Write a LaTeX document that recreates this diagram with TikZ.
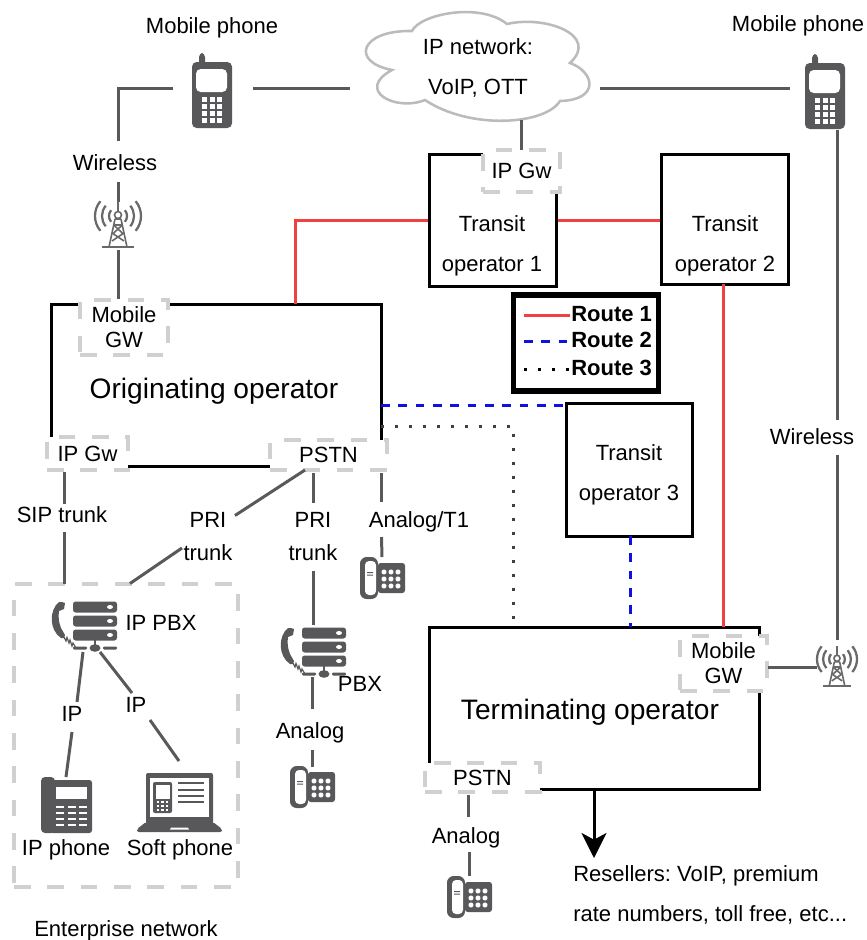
\documentclass[tikz,border=0pt]{standalone}
\usepackage{fontspec}
\setmainfont{Liberation Sans}
\usetikzlibrary{calc,arrows.meta}
\frenchspacing
\definecolor{iconc}{HTML}{58585B}
\definecolor{wirec}{HTML}{595959}
\definecolor{gwc}{HTML}{D0D0D0}
\definecolor{cloudc}{HTML}{BBBBBB}
\definecolor{redc}{HTML}{F04040}
\definecolor{bluec}{HTML}{1010E0}
\tikzset{
  x=0.75pt,y=-0.75pt,
  sz/.style 2 args={minimum width=#1*0.75pt,minimum height=#2*0.75pt,inner sep=0pt},
  lab/.style={font=\fontsize{16.5}{30}\selectfont,inner sep=0pt,align=center,text depth=0pt},
  labm/.style={font=\fontsize{16.5}{18.75}\selectfont,inner sep=0pt,align=center,text depth=0pt},
  labp/.style={font=\fontsize{16.5}{24.75}\selectfont,inner sep=0pt,align=center,text depth=0pt},
  labb/.style={font=\fontsize{21.1}{26}\selectfont,inner sep=0pt,align=center,text depth=0pt},
  labr/.style={font=\fontsize{16.5}{20}\selectfont\bfseries,inner sep=0pt,anchor=west},
  opbox/.style={draw=black,line width=2.25pt},
  gwbox/.style={draw=gwc,fill=white,line width=3.4pt,dash pattern=on 12.5pt off 12.5pt},
  entbox/.style={draw=gwc,line width=3.4pt,dash pattern=on 12.5pt off 12.5pt},
  wire/.style={draw=wirec,line width=2.25pt},
  route one/.style={draw=redc,line width=2.25pt},
  route two/.style={draw=bluec,line width=2.25pt,dash pattern=on 6.5pt off 6.5pt},
  route three/.style={draw=black!75,line width=2.25pt,dash pattern=on 2.25pt off 8.25pt},
  mobile/.pic={
    \fill[iconc,rounded corners=3pt] (-7,-42) rectangle (-13,-28);
    \fill[iconc,rounded corners=3.5pt] (-20,-33) rectangle (20,33);
    \fill[white,rounded corners=3.5pt] (-16,-26) rectangle (15,-3);
    \foreach \cx in {-8,0,7.5} \foreach \cy in {4.5,11,18,25}
      \fill[white] (\cx-2.5,\cy-2.5) rectangle (\cx+2.5,\cy+2.5);
  },
  tower/.pic={
    \begin{scope}[draw=iconc!90,line width=1.2pt]
      \draw (-16,22) -- (16,22);
      \draw (0,-24) -- (0,-13);
      \draw (0,-10) circle[radius=3.5];
      \draw (-3,-6) -- (-9,22) (3,-6) -- (9,22);
      \draw (-3,-6) -- (3,-6) (-4.3,0) -- (4.3,8) (4.3,0) -- (-4.3,8) (-6,8) -- (6,16) (6,8) -- (-6,16) (-4.3,0) -- (4.3,0);
      \foreach \r in {9,16,23} {
        \draw[line width=1.7pt] ([shift={(-40:\r)}]0,-9) arc (-40:40:\r);
        \draw[line width=1.7pt] ([shift={(140:\r)}]0,-9) arc (140:220:\r);
      }
    \end{scope}
  },
  deskphone/.pic={
    \fill[iconc,rounded corners=5pt] (-22,-21) rectangle (-4,21);
    \fill[white,rounded corners=3pt] (-17,-17) rectangle (-6,17);
    \fill[iconc,rounded corners=2pt] (-4,-15) rectangle (23,15);
    \fill[iconc] (-15,-6) rectangle (-9,-5) (-15,-3.5) rectangle (-9,-2.5);
    \foreach \cx in {2,9,16} \foreach \cy in {-6,1,8}
      \fill[white,rounded corners=1pt] (\cx-2.3,\cy-2.3) rectangle (\cx+2.3,\cy+2.3);
  },
  pbxicon/.pic={
    \foreach \cy in {-18,-4,10} {
      \fill[iconc,rounded corners=2pt] (-22,\cy-5.5) rectangle (22,\cy+5.5);
      \fill[white] (15,\cy) ellipse[x radius=3,y radius=2];
    }
    \fill[iconc] (-33,-23) -- (-30,-22) -- (-31,-16) -- (-36,-14)
      .. controls (-37,-8) and (-36,-2) .. (-34,3) -- (-30,10) -- (-31,13) -- (-34,13)
      .. controls (-46,5) and (-46,-15) .. (-36,-23) -- cycle;
    \draw[iconc,line width=0.9pt] (-31,12) -- (-29,16) -- (-28,12.5) -- (-26,18) -- (-25,15) -- (-23,21) -- (-22,18) -- (-19,23);
    \fill[iconc,rounded corners=0.8pt] (-22,21.5) rectangle (-8,24.5) (8,21.5) rectangle (22,24.5);
    \fill[iconc] (0,23) ellipse[x radius=5.5,y radius=3.8];
    \fill[iconc] (-1,15) rectangle (1,21);
  },
  ipphoneicon/.pic={
    \fill[iconc,rounded corners=3pt] (41,777) rectangle (55,833);
    \fill[iconc,rounded corners=2pt] (50,780) rectangle (92,833);
    \fill[white] (56,787) rectangle (87,799);
    \foreach \cy in {807,813,819,825}
      \foreach \cx in {56,67.5,79}
        \fill[white] (\cx,\cy-1.3) rectangle (\cx+8,\cy+1.3);
  },
  laptopicon/.pic={
    \fill[iconc,rounded corners=1.5pt] (146,773) rectangle (213,824);
    \fill[white] (150,778) rectangle (209,817);
    \fill[iconc,rounded corners=1.5pt] (153,782) rectangle (172,813);
    \fill[white] (155.5,785) rectangle (169.5,799);
    \foreach \cx in {158,162.5,167} \foreach \cy in {802,806,810}
      \fill[white] (\cx-1.2,\cy-1.2) rectangle (\cx+1.2,\cy+1.2);
    \foreach \cy in {783,790,796,802}
      \fill[iconc] (178,\cy-1) rectangle (204,\cy+1);
    \fill[iconc,rounded corners=1.5pt] (146,822) -- (213,822) -- (222,829) -- (222,832) -- (137,832) -- (137,829) -- cycle;
    \fill[white] (171,827.5) -- (188,827.5) -- (189,829.5) -- (170,829.5) -- cycle;
  },
}
\begin{document}
\begin{tikzpicture}
\useasboundingbox (0,0) rectangle (867,940);

% operator boxes
\node[opbox,sz={330}{162}] (orig) at (216,385) {};
\node[opbox,sz={127}{132}] (t1) at (492.5,220) {};
\node[opbox,sz={127}{130}] (t2) at (724.5,219) {};
\node[opbox,sz={126}{133}] (t3) at (629,469.5) {};
\node[opbox,sz={330}{162}] (term) at (594,708) {};

% cloud
\node[sz={250}{108}] (cloud) at (475,66) {};
\draw[draw=cloudc,fill=white,line width=1.9pt]
  (412,31) .. controls (420,14) and (480,2) .. (507,24)
  .. controls (545,15) and (600,35) .. (570,63)
  .. controls (595,72) and (600,100) .. (560,101)
  .. controls (545,125) and (470,130) .. (425,100)
  .. controls (395,112) and (355,90) .. (392,70)
  .. controls (350,62) and (360,30) .. (412,31) -- cycle;

% icon anchors
\node[sz={80}{80}] (phoneL) at (212,95) {};
\node[sz={40}{80}] (phoneR) at (825,96) {};
\node[sz={46}{46}] (towerL) at (118,225) {};
\node[sz={40}{40}] (towerR) at (837,667) {};
\node[sz={45}{40}] (deskA) at (382,578) {};
\node[sz={45}{40}] (deskB) at (312,787) {};
\node[sz={45}{40}] (deskC) at (469,897) {};
\node[sz={70}{50}] (pbxA) at (95,625) {};
\node[sz={70}{50}] (pbxB) at (324,651) {};
\node[sz={51}{56}] (ipphone) at (66,805) {};
\node[sz={85}{59}] (laptop) at (180,802) {};

% labels used by connectors
\node[lab] (wlL) at (115,163) {Wireless};
\node[lab] (wlR) at (812,437) {Wireless};
\node[lab] (sip) at (62,515) {SIP trunk};
\node[labp] (priA) at (208,536.5) {PRI\\trunk};
\node[labp] (priB) at (313,536.5) {PRI\\trunk};
\node[lab] (at1) at (419,520) {Analog/T1};
\node[lab] (anaB) at (310,731) {Analog};
\node[lab] (anaC) at (466,836) {Analog};
\node[lab] (ipA) at (72,714) {IP};
\node[lab] (ipB) at (136,705) {IP};

% enterprise frame
\node[entbox,sz={224}{303}] (ent) at (126,735.5) {};

% routes
\draw[route one] ($(orig)+(79,-81)$) |- (t1.west);
\draw[route one] (t1.east) -- (t1.east -| t2.west);
\draw[route one] ($(t2)+(-1.5,65)$) -- ($(term)+(129,-81)$);
\draw[route two] ($(orig)+(165,20)$) -- ($(t3)+(-63,-64.5)$);
\draw[route two] ($(t3)+(1,66.5)$) -- ($(term)+(36,-81)$);
\draw[route three] ($(orig)+(165,41)$) -| ($(term)+(-81,-81)$);

% gateways
\node[gwbox,sz={77}{42},lab] (gwT) at (521.5,171) {IP Gw};
\node[gwbox,sz={88}{55},labm] (gwM) at (124,327.5) {Mobile\\GW};
\node[gwbox,sz={81}{33},lab] (gwI) at (87.5,453.5) {IP Gw};
\node[gwbox,sz={117}{30},lab] (gwP) at (328.5,455) {PSTN};
\node[gwbox,sz={87}{55},labm] (gwTM) at (723.5,663.5) {Mobile\\GW};
\node[gwbox,sz={115}{29},lab] (gwTP) at (482.5,777.5) {PSTN};

% grey connectors
\draw[wire] ($(phoneL)+(-39,-7)$) -| ($(wlL)+(3,-22)$);
\draw[wire] ($(wlL)+(3,19)$) -- ($(towerL)+(0,-23)$);
\draw[wire] ($(towerL)+(0,25)$) -- ($(gwM)+(-6,-29)$);
\draw[wire] ($(phoneL)+(41,-7)$) -- ($(cloud)+(-125,22)$);
\draw[wire] ($(cloud)+(125,22)$) -- ($(phoneR)+(-35,-8)$);
\draw[wire] ($(cloud)+(46,54)$) -- ($(gwT)+(-0.5,-21)$);
\draw[wire] ($(phoneR)+(12,34)$) -- ($(wlR)+(25,-17)$);
\draw[wire] ($(wlR)+(25,18)$) -- ($(towerR)+(0,-27)$);
\draw[wire] (towerR.west) -- ($(gwTM)+(44,3.5)$);
\draw[wire] ($(gwI)+(-23.5,18)$) -- ($(sip)+(2,-11)$);
\draw[wire] ($(sip)+(2,17)$) -- ($(ent)+(-62,-151.5)$);
\draw[wire] ($(gwP)+(-23.5,15)$) -- ($(priA)+(27,-21)$);
\draw[wire] ($(priA)+(-26,11.5)$) -- ($(ent)+(4,-152)$);
\draw[wire] ($(gwP)+(-15.5,18)$) -- ($(priB)+(0,-33.5)$);
\draw[wire] ($(priB)+(0,34.5)$) -- ($(pbxB)+(-11,-26)$);
\draw[wire] ($(gwP)+(53,18)$) -- ($(at1)+(-37.5,-18)$);
\draw[wire] ($(at1)+(-37.5,17)$) -- ($(deskA)+(0,-21)$);
\draw[wire] ($(pbxB)+(-12,26)$) -- ($(anaB)+(2,-22)$);
\draw[wire] ($(anaB)+(2,19)$) -- ($(deskB)+(0,-20)$);
\draw[wire] ($(gwTP)+(-14.5,17.5)$) -- ($(anaC)+(2,-19)$);
\draw[wire] ($(anaC)+(3.5,16)$) -- ($(deskC)+(0.5,-21)$);
\draw[wire] ($(pbxA)+(-12,27)$) -- ($(ipA)+(5,-12)$);
\draw[wire] ($(ipA)+(0,18)$) -- ($(ipphone)+(0,-28)$);
\draw[wire] ($(pbxA)+(5,27)$) -- ($(ipB)+(-4,-12)$);
\draw[wire] ($(ipB)+(14,15)$) -- ($(laptop)+(-1,-41)$);

% black arrow to resellers
\node[lab,align=left,anchor=west] (res) at (573,894) {Resellers: VoIP, premium\\rate numbers, toll free, etc...};
\draw[draw=black,line width=2.25pt,-{Stealth[length=18.75pt,width=18.75pt,inset=5pt]}] (term.south) -- ($(res.west)+(21,-36)$);

% icons
\pic at (phoneL) {mobile};
\pic at (phoneR) {mobile};
\pic at (towerL) {tower};
\pic[scale=0.87] at (towerR) {tower};
\pic at (deskA) {deskphone};
\pic at (deskB) {deskphone};
\pic at (deskC) {deskphone};
\pic at (pbxA) {pbxicon};
\pic at (pbxB) {pbxicon};
\pic at (0,0) {ipphoneicon};
\pic at (0,0) {laptopicon};

% remaining text
\node[lab] (mpL) at (212,26) {Mobile phone};
\node[lab] (mpR) at (798,24) {Mobile phone};
\node[lab] (cloudt) at (478,67) {IP network:\\VoIP, OTT};
\node[lab] (t1t) at (492,244) {Transit\\operator 1};
\node[lab] (t2t) at (725,244) {Transit\\operator 2};
\node[lab] (t3t) at (629,473) {Transit\\operator 3};
\node[labb] (origt) at (214,388) {Originating operator};
\node[labb] (termt) at (590,709) {Terminating operator};
\node[lab] (ippbx) at (161,623) {IP PBX};
\node[lab] (pbxt) at (360,684) {PBX};
\node[lab] (ipphonet) at (66,848) {IP phone};
\node[lab] (softt) at (180,848) {Soft phone};
\node[lab] (entt) at (126,929) {Enterprise network};

% legend
\node[draw=black,line width=4.2pt,sz={145}{96}] (legend) at (586,343) {};
\node[labr] (r1) at (571,314) {Route 1};
\node[labr] (r2) at (571,340) {Route 2};
\node[labr] (r3) at (571,368) {Route 3};
\draw[route one] ($(r1.west)+(-47,1)$) -- ($(r1.west)+(-1,1)$);
\draw[route two] ($(r2.west)+(-47,1)$) -- ($(r2.west)+(-3,1)$);
\draw[route three,draw=black] ($(r3.west)+(-47,1)$) -- ($(r3.west)+(-1,1)$);
\end{tikzpicture}
\end{document}
